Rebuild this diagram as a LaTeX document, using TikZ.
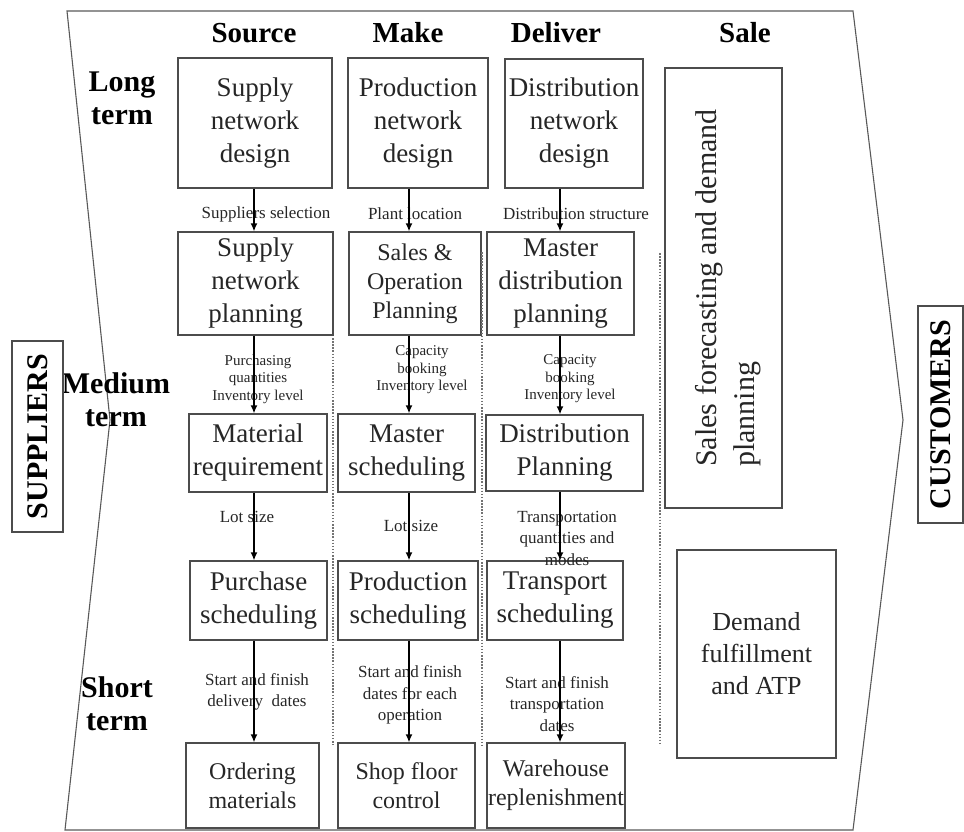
\documentclass[tikz,border=0pt]{standalone}
\usepackage{fontspec}
\setmainfont{Liberation Serif}
\usetikzlibrary{arrows.meta}
\tikzset{
  box/.style={draw=black!70, line width=1.3pt, inner sep=0pt, align=center, text=black!85, font=\fontsize{27}{33}\selectfont},
  sbox/.style={box, font=\fontsize{24}{29}\selectfont},
  lab/.style={inner sep=0pt, align=center, text=black!85, font=\fontsize{17}{21.5}\selectfont},
  slab/.style={inner sep=0pt, align=center, text=black!85, font=\fontsize{15}{17.5}\selectfont},
  head/.style={inner sep=0pt, align=center, font=\bfseries\fontsize{29}{32}\selectfont},
  rowlab/.style={inner sep=0pt, align=center, font=\bfseries\fontsize{30}{33}\selectfont},
  arr/.style={draw=black, line width=1.4pt, -{Latex[length=8pt,width=7pt]}},
  dots/.style={draw=black!55, line width=1.3pt, dash pattern=on 1.5pt off 1.6pt},
  outline/.style={draw=black!65, line width=1.1pt},
}
\begin{document}
\begin{tikzpicture}[x=1pt,y=-1pt]
\useasboundingbox (0,0) rectangle (964,832);
% outer chevron
\draw[outline] (67,11) -- (853,11) -- (903,420) -- (853,830) -- (65,830) -- (110,420) -- cycle;

% headers
\node[head] (hs) at (254,33) {Source};
\node[head] (hm) at (408,33) {Make};
\node[head] (hd) at (556,33) {Deliver};
\node[head] (hsa) at (745,33) {Sale};

% row labels
\node[rowlab] (rl) at (122,98) {Long\\term};
\node[rowlab] (rm) at (116,400) {Medium\\term};
\node[rowlab] (rs) at (117,704) {Short\\term};

% suppliers / customers
\node[draw=black!70, line width=1.3pt, minimum width=51pt, minimum height=191pt, inner sep=0pt] (sup) at (37.5,436.5) {};
\node[rotate=90, font=\bfseries\fontsize{30}{33}\selectfont, inner sep=0pt] (supt) at (sup.center) {SUPPLIERS};
\node[draw=black!70, line width=1.3pt, minimum width=45pt, minimum height=217pt, inner sep=0pt] (cus) at (940.5,414.5) {};
\node[rotate=90, font=\bfseries\fontsize{30}{33}\selectfont, inner sep=0pt] (cust) at (cus.center) {CUSTOMERS};

% Source column
\node[box, minimum width=154pt, minimum height=130pt] (sd) at (255,123) {Supply\\network\\design};
\node[box, minimum width=155pt, minimum height=103pt] (sp) at (255.5,283.5) {Supply\\network\\planning};
\node[box, minimum width=138pt, minimum height=78pt] (mr) at (258,453) {Material\\requirement};
\node[box, minimum width=137pt, minimum height=79pt] (ps) at (258.5,600.5) {Purchase\\scheduling};
\node[sbox, minimum width=133pt, minimum height=85pt] (om) at (252.5,785.5) {Ordering\\materials};

% Make column
\node[box, minimum width=140pt, minimum height=130pt] (pd) at (418,123) {Production\\network\\design};
\node[sbox, minimum width=132pt, minimum height=103pt] (sop) at (415,283.5) {Sales \&\\Operation\\Planning};
\node[box, minimum width=137pt, minimum height=78pt] (ms) at (406.5,453) {Master\\scheduling};
\node[box, minimum width=140pt, minimum height=79pt] (pr) at (408,600.5) {Production\\scheduling};
\node[sbox, minimum width=137pt, minimum height=85pt] (sf) at (406.5,785.5) {Shop floor\\control};

% Deliver column
\node[box, minimum width=138pt, minimum height=129pt] (dd) at (574,123.5) {Distribution\\network\\design};
\node[box, minimum width=147pt, minimum height=103pt] (mdp) at (560.5,283.5) {Master\\distribution\\planning};
\node[box, minimum width=157pt, minimum height=76pt] (dp) at (564.5,453) {Distribution\\Planning};
\node[box, minimum width=136pt, minimum height=79pt] (ts) at (555,600.5) {Transport\\scheduling};
\node[sbox, minimum width=138pt, minimum height=85pt] (wr) at (556,785.5) {Warehouse\\replenishment};

% Sale column
\node[box, minimum width=117pt, minimum height=440pt] (sfp) at (723.5,288) {};
\node[rotate=90, align=left, inner sep=0pt, text=black!85, font=\fontsize{30}{38}\selectfont] (sfpt) at (728,288) {Sales forecasting and demand\\planning};
\node[box, font=\fontsize{26}{32}\selectfont, minimum width=159pt, minimum height=208pt] (dfa) at (756.5,654) {Demand\\fulfillment\\and ATP};

% dotted separators
\coordinate (d1a) at (333,338); \coordinate (d1b) at (333,745);
\coordinate (d2a) at (482,252); \coordinate (d2b) at (482,745);
\coordinate (d3a) at (660,253); \coordinate (d3b) at (660,745);
\draw[dots] (d1a) -- (d1b);
\draw[dots] (d2a) -- (d2b);
\draw[dots] (d3a) -- (d3b);

% labels
\node[lab] (l1) at (266,214) {Suppliers selection};
\node[lab] (l2) at (415,214) {Plant location};
\node[lab] (l3) at (576,214) {Distribution structure};
\node[slab] (l4) at (258,379) {Purchasing\\quantities\\Inventory level};
\node[slab] (l5) at (422,370) {Capacity\\booking\\Inventory level};
\node[slab] (l6) at (570,379) {Capacity\\booking\\Inventory level};
\node[lab] (l7) at (247,517) {Lot size};
\node[lab] (l8) at (411,526) {Lot size};
\node[lab] (l9) at (567,538) {Transportation\\quantities and\\modes};
\node[lab] (l10) at (257,692) {Start and finish\\delivery\ \ dates};
\node[lab] (l11) at (410,695) {Start and finish\\dates for each\\operation};
\node[lab] (l12) at (557,704) {Start and finish\\transportation\\dates};

% arrows
\coordinate (cs) at (254,0);
\coordinate (cm) at (409,0);
\coordinate (cd) at (560,0);
\draw[arr] (sd.south -| cs) -- (sp.north -| cs);
\draw[arr] (sp.south -| cs) -- (mr.north -| cs);
\draw[arr] (mr.south -| cs) -- (ps.north -| cs);
\draw[arr] (ps.south -| cs) -- (om.north -| cs);
\draw[arr] (pd.south -| cm) -- (sop.north -| cm);
\draw[arr] (sop.south -| cm) -- (ms.north -| cm);
\draw[arr] (ms.south -| cm) -- (pr.north -| cm);
\draw[arr] (pr.south -| cm) -- (sf.north -| cm);
\draw[arr] (dd.south -| cd) -- (mdp.north -| cd);
\draw[arr] (mdp.south -| cd) -- (dp.north -| cd);
\draw[arr] (dp.south -| cd) -- (ts.north -| cd);
\draw[arr] (ts.south -| cd) -- (wr.north -| cd);
\end{tikzpicture}
\end{document}
